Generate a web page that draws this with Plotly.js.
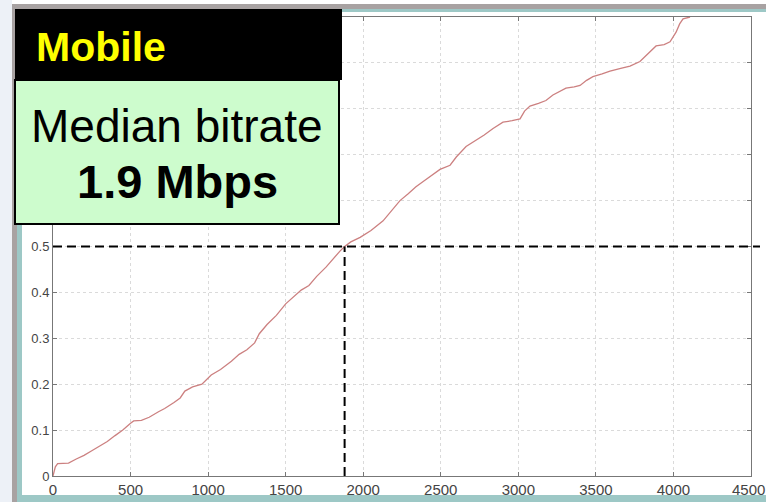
<!DOCTYPE html>
<html>
<head>
<meta charset="utf-8">
<script src="https://cdn.plot.ly/plotly-3.0.1.min.js"></script>
<style>
html,body{margin:0;padding:0;background:#fff;}
#chart{width:766px;height:502px;}
</style>
</head>
<body>
<div id="chart"></div>
<script>
// ---- data ----
var bitrateKbps = [0, 15, 30, 100, 150, 200, 250, 300, 350, 400, 450, 500, 520, 570, 620, 680, 720, 780, 820, 850, 900, 960, 990, 1020, 1080, 1150, 1200, 1250, 1300, 1330, 1380, 1440, 1500, 1550, 1600, 1650, 1700, 1760, 1810, 1850, 1880, 1920, 1980, 2050, 2128, 2180, 2237, 2290, 2340, 2400, 2460, 2495, 2560, 2600, 2663, 2720, 2780, 2837, 2901, 2960, 3011, 3040, 3075, 3130, 3178, 3223, 3270, 3307, 3360, 3398, 3440, 3481, 3540, 3591, 3660, 3720, 3784, 3840, 3888, 3940, 3978, 4017, 4040, 4062, 4107];
var cdfValues   = [0, 0.02, 0.027, 0.028, 0.037, 0.045, 0.055, 0.065, 0.075, 0.088, 0.1, 0.115, 0.12, 0.121, 0.128, 0.14, 0.147, 0.16, 0.17, 0.185, 0.194, 0.2, 0.21, 0.22, 0.232, 0.25, 0.265, 0.275, 0.29, 0.31, 0.33, 0.35, 0.375, 0.39, 0.405, 0.415, 0.435, 0.455, 0.475, 0.49, 0.5, 0.51, 0.52, 0.535, 0.556, 0.578, 0.6, 0.615, 0.63, 0.645, 0.66, 0.668, 0.677, 0.695, 0.718, 0.73, 0.743, 0.757, 0.771, 0.774, 0.778, 0.795, 0.806, 0.812, 0.818, 0.83, 0.838, 0.845, 0.848, 0.851, 0.862, 0.87, 0.876, 0.882, 0.888, 0.893, 0.903, 0.922, 0.937, 0.94, 0.946, 0.967, 0.985, 0.996, 1.0];
var xTickVals = [0, 500, 1000, 1500, 2000, 2500, 3000, 3500, 4000, 4500];
var xTickText = ['0', '500', '1000', '1500', '2000', '2500', '3000', '3500', '4000', ''];
var lastXTickLabel = '4500';
var yTickVals = [0, 0.1, 0.2, 0.3, 0.4, 0.5, 0.6, 0.7, 0.8, 0.9, 1];
var yTickText = ['0', '0.1', '0.2', '0.3', '0.4', '0.5', '', '', '', '', ''];
var medianX = 1880;
var medianY = 0.5;
var boxTitle = 'Mobile';
var boxLine1 = 'Median bitrate';
var boxLine2 = '<b>1.9 Mbps</b>';

// ---- layout helpers (pixel -> paper) ----
var L = 53, R = 751, T = 17, B = 476, W = 766, H = 502;
function px(x){ return (x - L) / (R - L); }
function py(y){ return (B - y) / (B - T); }
function rect(x0, y0, x1, y1, fill, line){
  return {type:'rect', xref:'paper', yref:'paper', layer:'above',
    x0:px(x0), x1:px(x1), y0:py(y1), y1:py(y0),
    fillcolor:fill, line: line || {width:0}};
}

var shapes = [
  rect(0, 0, 12, 502, '#edf1f7'),
  rect(12, 4, 17, 502, '#a8a2a2'),
  rect(12, 4, 766, 9, '#a8a2a2'),
  rect(17, 9, 22, 502, '#9dc8c6'),
  rect(17, 9, 766, 12, '#9dc8c6'),
  rect(17, 495, 766, 502, '#9dc8c6'),
  // median guide lines
  {type:'line', xref:'paper', yref:'y', layer:'above', x0:0, x1:px(760), y0:medianY, y1:medianY,
    line:{color:'#000', width:2, dash:'9px,5px'}},
  {type:'line', xref:'x', yref:'y', layer:'above', x0:medianX, x1:medianX, y0:0, y1:medianY,
    line:{color:'#000', width:2, dash:'9px,5px'}},
  // text boxes
  rect(15, 80, 339, 224, '#cdfccd', {color:'#000', width:2}),
  rect(15, 9, 342, 80, '#000000')
];

var tickFont = {family:'Liberation Sans, Arial, sans-serif', size:15, color:'#444'};

var annotations = [
  {xref:'paper', yref:'paper', x:px(34), y:py(47), xanchor:'left', yanchor:'middle', showarrow:false,
    text:'<b>' + boxTitle + '</b>', font:{family:'Liberation Sans, Arial, sans-serif', size:41, color:'#ffff00'}},
  {xref:'paper', yref:'paper', x:px(177), y:py(126), xanchor:'center', yanchor:'middle', showarrow:false,
    text:boxLine1, font:{family:'Liberation Sans, Arial, sans-serif', size:46, color:'#000'}},
  {xref:'paper', yref:'paper', x:px(177), y:py(181), xanchor:'center', yanchor:'middle', showarrow:false,
    text:boxLine2, font:{family:'Liberation Sans, Arial, sans-serif', size:47, color:'#000'}},
  // last x tick label, nudged so it stays inside the picture
  {xref:'paper', yref:'paper', x:px(766), y:py(489), xanchor:'right', yanchor:'middle', showarrow:false,
    text:lastXTickLabel, font:tickFont, borderpad:0}
];

var trace = {
  x: bitrateKbps, y: cdfValues, type:'scatter', mode:'lines',
  line:{color:'#cc8080', width:1.3}, hoverinfo:'skip', showlegend:false
};

var axisCommon = {
  showline:true, linecolor:'#777', linewidth:1, mirror:'ticks',
  ticks:'inside', ticklen:4, tickcolor:'#777',
  showgrid:true, gridcolor:'#dadada', gridwidth:1, griddash:'dot',
  zeroline:false, fixedrange:true
};

var layout = {
  width:W, height:H,
  margin:{l:L, r:W - R, t:T, b:H - B, pad:0},
  paper_bgcolor:'#ffffff', plot_bgcolor:'#ffffff',
  showlegend:false,
  xaxis: Object.assign({}, axisCommon, {
    range:[0, 4500], tickmode:'array', tickvals:xTickVals, ticktext:xTickText,
    tickfont:tickFont
  }),
  yaxis: Object.assign({}, axisCommon, {
    range:[0, 1], tickmode:'array', tickvals:yTickVals, ticktext:yTickText,
    tickfont:{family:'Liberation Sans, Arial, sans-serif', size:13, color:'#444'}
  }),
  shapes: shapes,
  annotations: annotations
};

Plotly.newPlot('chart', [trace], layout, {displayModeBar:false, staticPlot:true});
</script>
</body>
</html>
